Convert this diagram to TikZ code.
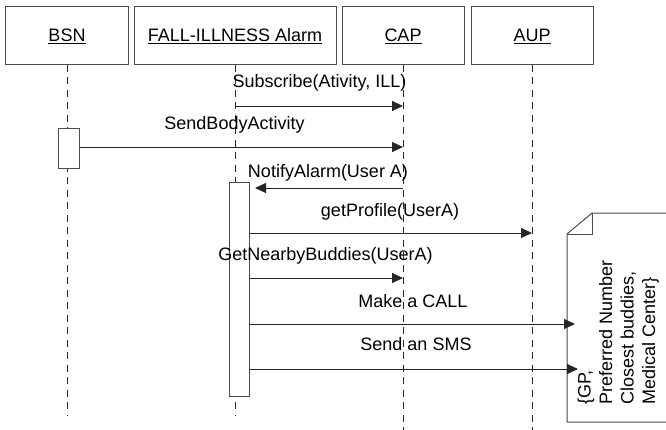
\documentclass[tikz,border=0pt]{standalone}
\usepackage{fontspec}
\setmainfont{Liberation Sans}
\usetikzlibrary{arrows.meta}
\begin{document}
\begin{tikzpicture}[x=1pt,y=-1pt,
  font=\fontsize{18}{21.5}\selectfont,
  head/.style={draw=black!70, line width=1pt, minimum height=58pt, inner sep=0pt,
               text height=13pt, text depth=0pt},
  life/.style={draw=black!85, line width=0.9pt, dash pattern=on 7pt off 5.5pt},
  act/.style={draw=black!70, fill=white, line width=1pt, inner sep=0pt},
  msg/.style={draw=black!85, line width=0.9pt, -{Triangle[length=11pt,width=10pt]}},
  lbl/.style={anchor=base, inner sep=0pt},
  notebox/.style={draw=black!70, line width=1pt},
]
\useasboundingbox (0,0) rectangle (666,429);
\clip (0,0) rectangle (666,429);

% participants
\node[head, minimum width=123pt] (bsn)  at (67,35)  {\underline{BSN}};
\node[head, minimum width=202pt] (fall) at (235,35) {\underline{FALL-ILLNESS Alarm}};
\node[head, minimum width=122pt] (cap)  at (403,35) {\underline{CAP}};
\node[head, minimum width=122pt] (aup)  at (532,35) {\underline{AUP}};

% lifelines
\coordinate (bsn-end)  at (67,415);
\coordinate (fall-end) at (235,415);
\coordinate (cap-end)  at (403,432);
\coordinate (aup-end)  at (532,432);
\draw[life] (bsn.south)  -- (bsn-end);
\draw[life] (fall.south) -- (fall-end);
\draw[life] (cap.south)  -- (cap-end);
\draw[life] (aup.south)  -- (aup-end);

% activation bars
\node[act, minimum width=21pt, minimum height=40pt]  (bsnact)  at (68.5,148) {};
\node[act, minimum width=20pt, minimum height=214pt] (fallact) at (239,289)  {};

% note with folded corner
\draw[notebox, fill=white] (567,234) -- (592,213) -- (672,213) -- (672,422) -- (567,422) -- cycle;
\draw[notebox] (592,213) -- (592,234) -- (567,234);
\node[rotate=90, anchor=south west, align=left, inner sep=0pt] (notetext) at (659,405)
  {\{GP,\\Preferred Number\\Closest buddies,\\Medical Center\}};
\coordinate (call-end) at (575,324);
\coordinate (sms-end)  at (578,369);
\coordinate (notify-end) at (255,188);

% messages
\draw[msg] (fall.south |- 0,106) -- (cap.south |- 0,106);
\node[lbl] (m1) at (319.5,87) {Subscribe(Ativity, ILL)};

\draw[msg] (bsnact.east |- 0,147) -- (cap.south |- 0,147);
\node[lbl] (m2) at (234.5,129) {SendBodyActivity};

\draw[msg] (cap.south |- 0,188) -- (notify-end);
\node[lbl] (m3) at (328,177) {NotifyAlarm(User A)};

\draw[msg] (fallact.east |- 0,233) -- (aup.south |- 0,233);
\node[lbl] (m4) at (390,216) {getProfile(UserA)};

\draw[msg] (fallact.east |- 0,278) -- (cap.south |- 0,278);
\node[lbl] (m5) at (325.5,260) {GetNearbyBuddies(UserA)};

\draw[msg] (fallact.east |- 0,324) -- (call-end);
\node[lbl] (m6) at (413,307) {Make a CALL};

\draw[msg] (fallact.east |- 0,369) -- (sms-end);
\node[lbl] (m7) at (416,350) {Send an SMS};
\end{tikzpicture}
\end{document}
